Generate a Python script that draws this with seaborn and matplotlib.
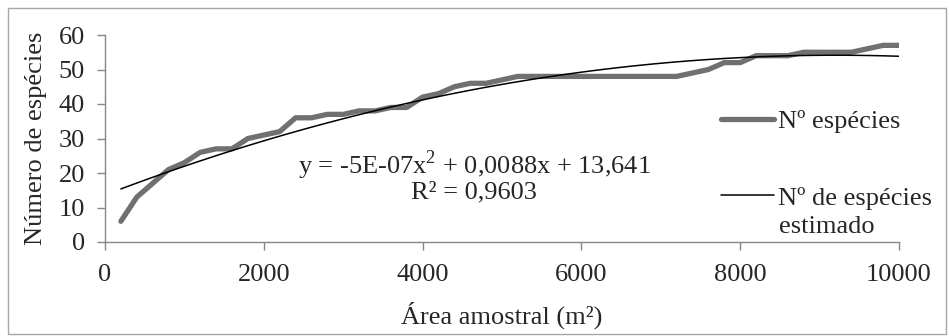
import numpy as np
import pandas as pd
import matplotlib
matplotlib.use("Agg")
import matplotlib.pyplot as plt
import seaborn as sns

# área amostral (m²) e número acumulado de espécies
area = [200, 400, 600, 800, 1000, 1200, 1400, 1600, 1800, 2000,
        2200, 2400, 2600, 2800, 3000, 3200, 3400, 3600, 3800, 4000,
        4200, 4400, 4600, 4800, 5000, 5200, 5400, 5600, 5800, 6000,
        6200, 6400, 6600, 6800, 7000, 7200, 7400, 7600, 7800, 8000,
        8200, 8400, 8600, 8800, 9000, 9200, 9400, 9600, 9800, 10000]
especies = [6, 13, 17, 21, 23, 26, 27, 27, 30, 31,
            32, 36, 36, 37, 37, 38, 38, 39, 39, 42,
            43, 45, 46, 46, 47, 48, 48, 48, 48, 48,
            48, 48, 48, 48, 48, 48, 49, 50, 52, 52,
            54, 54, 54, 55, 55, 55, 55, 56, 57, 57]

x_ticks = [0, 2000, 4000, 6000, 8000, 10000]
y_ticks = [0, 10, 20, 30, 40, 50, 60]
equacao = "y = -5E-07x$^2$ + 0,0088x + 13,641"
r2 = "R² = 0,9603"

df = pd.DataFrame({"area": area, "especies": especies})

sns.set_theme(style="white")
plt.rcParams["font.family"] = ["Liberation Serif", "DejaVu Serif"]
plt.rcParams["mathtext.fontset"] = "custom"
plt.rcParams["mathtext.rm"] = "Liberation Serif"
plt.rcParams["font.size"] = 19

W, H = 949, 336
fig = plt.figure(figsize=(W / 100, H / 100), dpi=100)
ax = fig.add_axes([105 / W, 1 - 242 / H, (899 - 105) / W, (242 - 35) / H])

sns.lineplot(data=df, x="area", y="especies", ax=ax, color="#707070",
             linewidth=3.8, label="Nº espécies",
             solid_joinstyle="round", solid_capstyle="round")
sns.regplot(data=df, x="area", y="especies", ax=ax, order=2, ci=None,
            scatter=False, label="Nº de espécies",
            line_kws={"color": "black", "linewidth": 1.1})

ax.set_xlim(0, 10000)
ax.set_ylim(0, 60)
ax.set_xticks(x_ticks)
ax.set_yticks(y_ticks)
ax.set_xlabel("Área amostral (m²)", fontsize=19, labelpad=11)
ax.set_ylabel("Número de espécies", fontsize=19, labelpad=8)
ax.tick_params(axis="both", labelsize=19, direction="out", length=6,
               width=1, color="#868686", bottom=True, left=True)
ax.tick_params(axis="x", pad=10)
ax.tick_params(axis="y", pad=8.5)
for s in ["top", "right"]:
    ax.spines[s].set_visible(False)
for s in ["left", "bottom"]:
    ax.spines[s].set_color("#868686")
    ax.spines[s].set_linewidth(1)

fig.text(474 / W, 1 - 165 / H, equacao, ha="center", va="center", fontsize=19)
fig.text(474 / W, 1 - 192 / H, r2, ha="center", va="center", fontsize=19)

leg = ax.legend(loc="upper left", bbox_to_anchor=(721 / W, 1 - 110 / H),
                bbox_transform=fig.transFigure, frameon=False,
                handlelength=2.0, handletextpad=0.15, labelspacing=2.0,
                borderpad=0, borderaxespad=0, fontsize=19)
# segunda linha do rótulo da linha de tendência, como no Excel
fig.text(779 / W, 1 - 233 / H, "estimado", ha="left", va="baseline", fontsize=19)

fig.patches.append(plt.Rectangle((8 / W, 2 / H), (946 - 8) / W, (334 - 8) / H,
                                 transform=fig.transFigure, fill=False,
                                 edgecolor="#a6a6a6", linewidth=1))

fig.savefig("out.png", dpi=100)
